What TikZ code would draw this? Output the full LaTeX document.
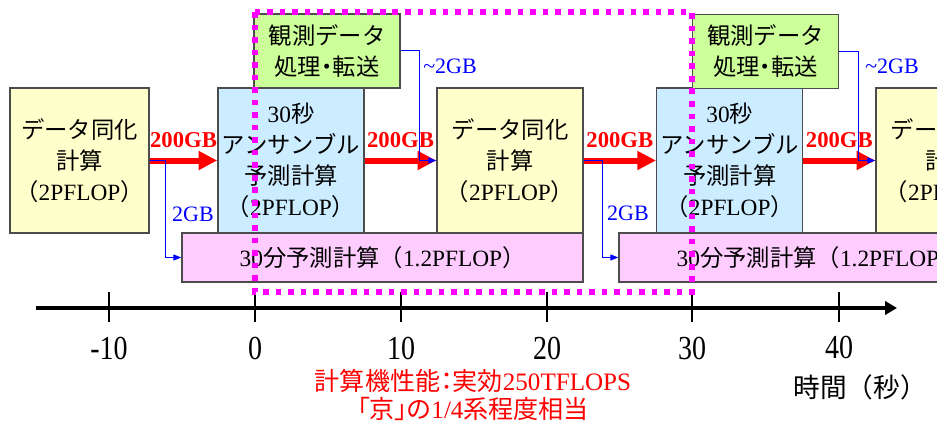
\documentclass[tikz,border=0pt]{standalone}
\usepackage{fontspec}
\usepackage{graphicx}
\usepackage{xcolor}
\setmainfont{Noto Sans CJK JP}
\newfontfamily\tm{Liberation Serif}
\newfontfamily\jpp[RawFeature=+palt]{Noto Sans CJK JP}
\usetikzlibrary{arrows.meta}

\definecolor{dayellow}{HTML}{FFFFCC}
\definecolor{enblue}{HTML}{CCECFF}
\definecolor{obgreen}{HTML}{CCFF99}
\definecolor{fcpink}{HTML}{FFCCFF}
\definecolor{winmag}{HTML}{FF00FF}

\tikzset{
  taskbox/.style={draw=black!70, line width=1.1pt, inner sep=0pt, align=center, font=\fontsize{17.5}{23.25}\selectfont},
  assim/.style={taskbox, fill=dayellow, minimum width=109.5pt, minimum height=108.75pt},
  ensfc/.style={taskbox, fill=enblue, minimum width=109.5pt, minimum height=108.75pt},
  obsproc/.style={taskbox, fill=obgreen, minimum width=109.5pt, minimum height=55.5pt},
  longfc/.style={taskbox, fill=fcpink, minimum width=300.75pt, minimum height=36.75pt},
  bigflow/.style={draw=red, line width=4.5pt, -{Triangle[length=14pt,width=13.5pt]}},
  smallflow/.style={draw=blue, line width=0.75pt, -{Triangle[length=6pt,width=4.5pt]}},
  bigtag/.style={text=red, font=\tm\bfseries\fontsize{17}{17}\selectfont, inner sep=0pt},
  smalltag/.style={text=blue, font=\tm\fontsize{16.5}{16.5}\selectfont, inner sep=0pt},
  axtick/.style={line width=1.2pt},
  ticklabel/.style={font=\tm\fontsize{21}{21}\selectfont, inner sep=0pt},
  window/.style={draw=winmag, line width=4pt, dash pattern=on 4.2pt off 5.2pt},
}

\begin{document}
\begin{tikzpicture}[x=0.75pt,y=0.75pt,yscale=-1,xscale=1]
\useasboundingbox (0,0) rectangle (937,424);
\clip (0,0) rectangle (937,424);

%Shape: Rectangle [data assimilation 1]
\node[assim, minimum width=104.25pt] (dat1) at (79.5,160.5) {データ同化\\計算\\（{\tm 2PFLOP}）};
%Shape: Rectangle [ensemble forecast 1]
\node[ensfc] (ens1) at (291,160.5) {{\tm 30}秒\\アンサンブル\\予測計算\\（{\tm 2PFLOP}）};
%Shape: Rectangle [observation 1]
\node[obsproc] (obs1) at (327,51) {観測データ\\{\jpp 処理・転送}};
%Shape: Rectangle [30 min forecast 1]
\node[longfc] (lfc1) at (382.6,257.5) {{\tm 30}分予測計算（{\tm 1.2PFLOP}）};
%Shape: Rectangle [data assimilation 2]
\node[assim] (dat2) at (510,160.5) {データ同化\\計算\\（{\tm 2PFLOP}）};
%Shape: Rectangle [ensemble forecast 2]
\node[ensfc] (ens2) at (729.7,160.5) {{\tm 30}秒\\アンサンブル\\予測計算\\（{\tm 2PFLOP}）};
%Shape: Rectangle [observation 2]
\node[obsproc] (obs2) at (765.5,51.5) {観測データ\\{\jpp 処理・転送}};
%Shape: Rectangle [30 min forecast 2]
\node[longfc] (lfc2) at (819.6,257.5) {{\tm 30}分予測計算（{\tm 1.2PFLOP}）};
%Shape: Rectangle [data assimilation 3]
\node[assim] (dat3) at (949,160.5) {データ同化\\計算\\（{\tm 2PFLOP}）};

%Straight Lines [200GB transfers]
\draw[bigflow] (dat1) -- (ens1) node[midway, above=7.5pt, bigtag] {200GB};
\draw[bigflow] (ens1) -- (dat2) node[midway, above=7.5pt, bigtag] {200GB};
\draw[bigflow] (dat2) -- (ens2) node[midway, above=7.5pt, bigtag] {200GB};
\draw[bigflow] (ens2) -- (dat3) node[midway, above=7.5pt, bigtag] {200GB};

%Straight Lines [2GB transfers]
\draw[smallflow] (dat1.east) -- ++(16,0) |- (lfc1.west);
\draw[smallflow] (dat2.east) -- ++(18.4,0) |- (lfc2.west);
\draw[smallflow] (obs1.east) -- ++(19,0) |- (dat2.west);
\draw[smallflow] (obs2.east) -- ++(19,0) |- (dat3.west);

% Text Node
\node[smalltag] (gb1) at (193,214) {2GB};
% Text Node
\node[smalltag] (gb2) at (628,213) {2GB};
% Text Node
\node[smalltag] (gbo1) at (450,66) {\textasciitilde2GB};
% Text Node
\node[smalltag] (gbo2) at (892,66) {\textasciitilde2GB};

%Straight Lines [time axis]
\coordinate (tstart) at (36,308);
\coordinate (tend) at (897,308);
\draw[line width=3pt, -{Triangle[length=9pt,width=10pt]}] (tstart) -- (tend);
\draw[axtick] (109,292) -- (109,322);
\draw[axtick] (255,292) -- (255,322);
\draw[axtick] (401,292) -- (401,322);
\draw[axtick] (547,292) -- (547,322);
\draw[axtick] (692,292) -- (692,322);
\draw[axtick] (839,292) -- (839,322);

% Text Node
\node[ticklabel] (lm10) at (109,348) {\scalebox{1}[1.2]{-10}};
% Text Node
\node[ticklabel] (l0) at (255,348) {\scalebox{1}[1.2]{0}};
% Text Node
\node[ticklabel] (l10) at (401,348) {\scalebox{1}[1.2]{10}};
% Text Node
\node[ticklabel] (l20) at (547,348) {\scalebox{1}[1.2]{20}};
% Text Node
\node[ticklabel] (l30) at (692,348) {\scalebox{1}[1.2]{30}};
% Text Node
\node[ticklabel] (l40) at (839,347) {\scalebox{1}[1.2]{40}};
% Text Node
\node[font=\fontsize{20}{20}\selectfont, inner sep=0pt] (tunit) at (860,387) {時間（秒）};
% Text Node
\node[text=red, align=center, inner sep=0pt, font=\jpp\fontsize{18.8}{21}\selectfont] (perf) at (473,395) {計算機性能：実効{\tm 250TFLOPS}\\「京」の{\tm 1/4}系程度相当};

%Shape: Rectangle [30 s cycle window]
\draw[window] (255,12) rectangle (692,292);

\end{tikzpicture}
\end{document}
